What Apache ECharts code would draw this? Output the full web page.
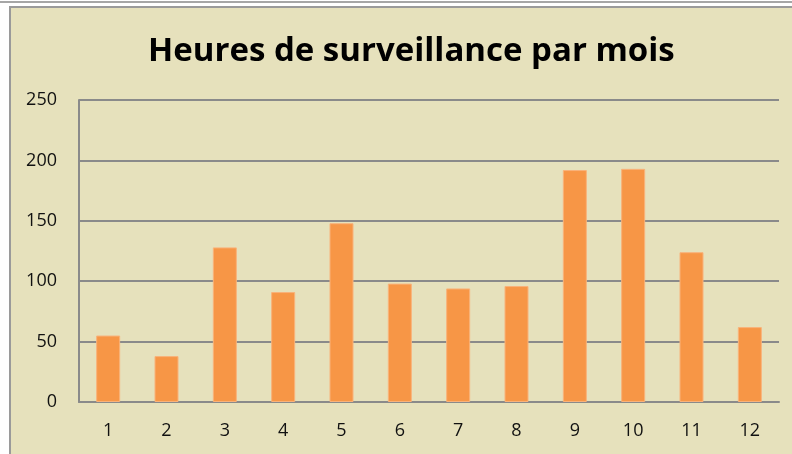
<!DOCTYPE html>
<html>
<head>
<meta charset="utf-8">
<script src="https://cdn.jsdelivr.net/npm/echarts@6/dist/echarts.min.js"></script>
<style>
  html, body { margin: 0; padding: 0; background: #ffffff; }
  #chart { width: 792px; height: 454px; }
</style>
</head>
<body>
<div id="chart"></div>
<script>
// données
var months = ["1", "2", "3", "4", "5", "6", "7", "8", "9", "10", "11", "12"];
var hours = [55, 38, 128, 91, 148, 98, 94, 96, 192, 193, 124, 62];
var yTicks = [0, 50, 100, 150, 200, 250];

var myChart = echarts.init(document.getElementById("chart"));

var option = {
  backgroundColor: "#ffffff",
  animation: false,
  graphic: [
    // ligne grise du haut
    { type: "rect", shape: { x: 0, y: 1, width: 792, height: 2 }, style: { fill: "#a6a6a6" }, z: -10 },
    // cadre beige
    {
      type: "rect",
      shape: { x: 10, y: 7, width: 800, height: 460 },
      style: { fill: "#e6e1bc", stroke: "#9a9a9a", lineWidth: 2 },
      z: -10
    }
  ],
  title: {
    text: "Heures de surveillance par mois",
    left: 143,
    top: 30,
    textStyle: {
      fontFamily: "Open Sans",
      fontWeight: "bold",
      fontSize: 33,
      color: "#000000"
    }
  },
  grid: { left: 79, right: 13, top: 100, bottom: 52 },
  xAxis: {
    type: "category",
    data: months,
    axisLine: { lineStyle: { color: "#8a8a8a", width: 2 } },
    axisTick: { show: false },
    axisLabel: { color: "#111111", fontSize: 18, fontFamily: "Open Sans", margin: 20 }
  },
  yAxis: {
    type: "value",
    min: yTicks[0],
    max: yTicks[yTicks.length - 1],
    interval: 50,
    axisLine: { show: true, lineStyle: { color: "#8a8a8a", width: 2 } },
    axisTick: { show: false },
    splitLine: { lineStyle: { color: "#8a8a8a", width: 2 } },
    axisLabel: { color: "#111111", fontSize: 18, fontFamily: "Open Sans", margin: 22 }
  },
  series: [
    {
      type: "bar",
      data: hours,
      barWidth: 24,
      itemStyle: { color: "#f79646", borderColor: "#f9b27a", borderWidth: 1 }
    }
  ]
};

myChart.setOption(option);
</script>
</body>
</html>
